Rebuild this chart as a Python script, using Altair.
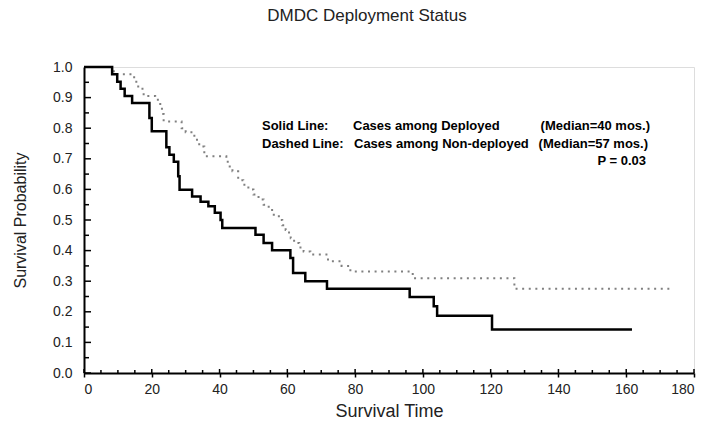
import altair as alt
import pandas as pd

# ---- data ----
solid_time = [0, 8.3, 9.8, 10.8, 12.0, 14.2, 19.3, 20.0, 24.3, 25.2, 26.5, 27.8, 28.2,
              31.9, 34.4, 36.7, 38.6, 40.3, 40.8, 50.6, 53.0, 55.5, 60.9, 61.7, 65.3,
              71.7, 96.1, 103.2, 104.2, 120.4, 161.7]
solid_surv = [1.0, 0.976, 0.952, 0.929, 0.905, 0.882, 0.833, 0.790, 0.738, 0.713, 0.690,
              0.643, 0.599, 0.577, 0.560, 0.545, 0.524, 0.500, 0.474, 0.452, 0.425, 0.401,
              0.376, 0.327, 0.300, 0.275, 0.248, 0.218, 0.187, 0.142, 0.142]

dashed_time = [0, 8.8, 14.8, 16.0, 17.6, 21.0, 22.5, 23.0, 23.5, 28.8, 30.0, 32.0, 33.0,
               34.0, 35.5, 42.0, 43.0, 43.8, 45.5, 47.0, 48.5, 50.0, 51.5, 53.0, 54.5,
               56.0, 57.5, 58.5, 59.5, 60.5, 61.0, 62.0, 63.5, 64.8, 66.8, 72.0, 76.0,
               78.6, 97.0, 127.0, 173.0]
dashed_surv = [1.0, 0.976, 0.952, 0.929, 0.905, 0.893, 0.870, 0.846, 0.822, 0.800, 0.787,
               0.775, 0.762, 0.740, 0.708, 0.690, 0.675, 0.659, 0.630, 0.615, 0.600, 0.583,
               0.567, 0.550, 0.533, 0.517, 0.500, 0.483, 0.467, 0.450, 0.440, 0.425, 0.410,
               0.397, 0.387, 0.365, 0.350, 0.332, 0.310, 0.275, 0.275]

x_major = [0, 20, 40, 60, 80, 100, 120, 140, 160, 180]
x_minor = [v for v in range(0, 181, 5) if v % 20 != 0]
y_major = [round(i / 10, 1) for i in range(0, 11)]
y_minor = [round(0.05 + i / 10, 2) for i in range(0, 10)]

title_text = "DMDC Deployment Status"
x_title = "Survival Time"
y_title = "Survival Probability"
note_row1 = ["Solid Line:", "Cases among Deployed", "(Median=40 mos.)"]
note_row2 = ["Dashed Line:", "Cases among Non-deployed", "(Median=57 mos.)"]
note_p = "P = 0.03"

FONT = "Liberation Sans"

solid_df = pd.DataFrame({"t": solid_time, "s": solid_surv})
dashed_df = pd.DataFrame({"t": dashed_time, "s": dashed_surv})

xscale = alt.Scale(domain=[0, 180], nice=False, zero=False)
yscale = alt.Scale(domain=[0, 1.0], nice=False)

x_axis = alt.Axis(values=x_major, title=x_title, grid=False, tickSize=4, tickColor="black",
                  tickWidth=1.5, labelPadding=5, labelFontSize=14, labelFont=FONT,
                  labelColor="#222", labelOverlap=False, titleFont=FONT, titleFontSize=18,
                  titleFontWeight="normal", titleColor="#222", titlePadding=6,
                  domainColor="black", domainWidth=2)
y_axis = alt.Axis(values=y_major, format=".1f", title=y_title, grid=False, ticks=False,
                  labelPadding=12, labelFontSize=14, labelFont=FONT, labelColor="#222",
                  labelOverlap=False, titleFont=FONT, titleFontSize=16,
                  titleFontWeight="normal", titleColor="#222", titlePadding=24,
                  domainColor="black", domainWidth=2)


def X(field):
    return alt.X(field, scale=xscale, axis=x_axis, title=x_title)


def Y(field):
    return alt.Y(field, scale=yscale, axis=y_axis, title=y_title)


dashed = alt.Chart(dashed_df).mark_line(
    interpolate="step-after", color="#808080", strokeWidth=2, strokeDash=[2, 4.6]
).encode(x=X("t:Q"), y=Y("s:Q"))

solid = alt.Chart(solid_df).mark_line(
    interpolate="step-after", color="black", strokeWidth=2.5
).encode(x=X("t:Q"), y=Y("s:Q"))

xmaj_df = pd.DataFrame({"v": x_major})
xmin_df = pd.DataFrame({"v": x_minor})
ymaj_df = pd.DataFrame({"v": y_major})
ymin_df = pd.DataFrame({"v": y_minor})

xmaj_ticks = alt.Chart(xmaj_df).mark_rule(color="black", strokeWidth=1.5).encode(
    x=X("v:Q"), y=alt.value(306), y2=alt.value(302))
xmin_ticks = alt.Chart(xmin_df).mark_rule(color="black", strokeWidth=1.5).encode(
    x=X("v:Q"), y=alt.value(306), y2=alt.value(303))
ymaj_ticks = alt.Chart(ymaj_df).mark_rule(color="black", strokeWidth=1.5).encode(
    y=Y("v:Q"), x=alt.value(0), x2=alt.value(7))
ymin_ticks = alt.Chart(ymin_df).mark_rule(color="black", strokeWidth=1.5).encode(
    y=Y("v:Q"), x=alt.value(0), x2=alt.value(5))


def note(text, x, y, align="left"):
    return alt.Chart(pd.DataFrame({"txt": [text]})).mark_text(
        font=FONT, fontSize=13, fontWeight="bold", color="black", align=align,
        baseline="middle"
    ).encode(text="txt:N", x=alt.value(x), y=alt.value(y))


notes = [
    note(note_row1[0], 178, 59), note(note_row1[1], 269, 59),
    note(note_row1[2], 566, 59, align="right"),
    note(note_row2[0], 178, 77), note(note_row2[1], 270, 77),
    note(note_row2[2], 564, 77, align="right"),
    note(note_p, 562, 94, align="right"),
]

chart = alt.layer(
    dashed, solid, xmaj_ticks, xmin_ticks, ymaj_ticks, ymin_ticks, *notes
).properties(
    width=610, height=306,
    title=alt.TitleParams(title_text, font=FONT, fontSize=17, fontWeight="normal",
                          color="#222", anchor="middle", dx=-22, offset=35),
    autosize=alt.AutoSizeParams(type="none"),
    padding={"left": 84, "top": 67, "right": 12, "bottom": 55},
).configure_view(
    stroke="#222", strokeWidth=1.5
).configure(background="white")

chart.save("out.html", embed_options={"renderer": "svg", "actions": False})
